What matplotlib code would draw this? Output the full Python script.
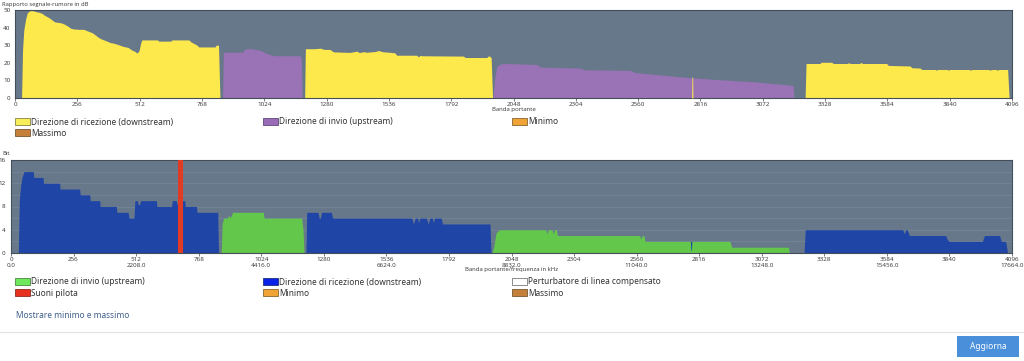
import matplotlib
matplotlib.use("Agg")
import matplotlib.pyplot as plt
from matplotlib.patches import Patch, Rectangle
from matplotlib.font_manager import FontProperties

plt.rcParams['font.family'] = ['Open Sans', 'DejaVu Sans']

# ---------------- data: SNR (dB) per carrier ----------------
snr_ds1_carrier = [27, 31, 36, 44, 51, 61, 74, 88, 101, 112, 121, 135, 148, 162, 175, 189, 202, 216, 229,
                   243, 263, 283, 296, 317, 330, 344, 357, 371, 391, 404, 418, 431, 445, 465, 478, 492,
                   502, 510, 516, 521, 586, 590, 640, 645, 715, 721, 735, 748, 755, 822, 826, 836, 842]
snr_ds1_db = [0, 27, 38.5, 45, 48.5, 49.6, 49.6, 49, 48.6, 48, 47, 46, 44.8, 43.3, 43, 42.7, 42, 40.9, 39.6,
              39.2, 39, 39, 38.2, 37.1, 35.8, 34.3, 33.4, 32.7, 31.5, 31.2, 30.6, 30, 29.3, 28.7, 27.4, 26.5,
              25.5, 27, 31, 33, 33, 32.3, 32.3, 33, 33, 32, 31, 30, 29, 29, 30, 30, 0]

snr_us1_carrier = [853, 856, 935, 943, 955, 975, 990, 1010, 1030, 1050, 1071, 1172, 1176, 1180]
snr_us1_db = [0, 26, 26, 27.5, 28, 28, 27.5, 27, 25.5, 24.5, 24, 24, 22, 0]

snr_ds2_carrier = [1190, 1193, 1230, 1255, 1270, 1283, 1294, 1308, 1376, 1404, 1415, 1431, 1445, 1480,
                   1493, 1510, 1560, 1568, 1650, 1657, 1664, 1672, 1842, 1850, 1938, 1946, 1956, 1962]
snr_ds2_db = [0, 28, 28, 28.3, 27.6, 27.6, 27.6, 26.2, 25.9, 26.6, 25.8, 26.3, 26, 26.4,
              27, 26.3, 25.7, 24.3, 24.3, 23.4, 24.2, 24, 23.8, 23, 23, 24, 23, 0]

snr_us2_carrier = [1963, 1970, 1979, 1990, 2006, 2080, 2143, 2160, 2321, 2340, 2526, 2545, 2732,
                   2869, 3047, 3170, 3197, 3200]
snr_us2_db = [0, 10, 17.7, 19, 19.6, 19.3, 19, 17.5, 17, 16, 15.7, 14.5, 12,
              10.6, 9.1, 7.5, 7, 0]

snr_ds_spot_carrier = [2780, 2781, 2784, 2785]
snr_ds_spot_db = [0, 11.8, 11.8, 0]

snr_ds3_carrier = [3246, 3250, 3307, 3312, 3355, 3362, 3420, 3425, 3430, 3470, 3476, 3482, 3581, 3588,
                   3677, 3684, 3718, 3726, 3780, 3784, 3790, 3830, 3835, 3840, 3920, 3926, 3932,
                   4000, 4006, 4012, 4030, 4036, 4042, 4078, 4084]
snr_ds3_db = [0, 19.6, 19.6, 20.3, 20.3, 19.6, 19.6, 20.1, 19.6, 19.6, 20.2, 19.6, 19.6, 18.5,
              18.2, 17.2, 17, 16.2, 16.2, 15.8, 16.2, 16.2, 15.8, 16.2, 16.2, 15.8, 16.2,
              16.2, 15.8, 16.2, 16.2, 15.8, 16.2, 16.2, 0]

# ---------------- data: bits per carrier ----------------
bits_ds1_carrier = [30, 34, 39, 45, 53, 91, 93, 131, 133, 199, 201, 281, 283, 322, 324, 363, 365, 431, 433,
                    479, 483, 503, 507, 517, 521, 526, 530, 595, 597, 657, 660, 676, 680, 684, 688, 711,
                    713, 759, 761, 846, 849]
bits_ds1 = [0, 9, 11.5, 13, 14, 14, 13, 13, 12, 12, 11, 11, 10, 10, 9, 9, 8, 8, 7,
            7, 6, 6, 9, 9, 8.3, 8.3, 9, 9, 8, 8, 9, 9, 8.3, 8.6, 9, 9,
            8, 8, 7, 7, 0]

bits_us1_carrier = [860, 864, 870, 884, 893, 897, 902, 907, 1032, 1036, 1189, 1195, 1199]
bits_us1 = [0, 5, 6, 6, 6.5, 6, 6.5, 7, 7, 6, 6, 4, 0]

bits_ds2_carrier = [1207, 1210, 1256, 1261, 1266, 1271, 1311, 1316, 1640, 1647, 1654, 1664, 1668, 1673,
                    1700, 1707, 1714, 1724, 1728, 1733, 1760, 1766, 1960, 1964]
bits_ds2 = [0, 7, 7, 6, 6, 7, 7, 6, 6, 5, 6, 6, 5.2, 6,
            6, 5, 6, 6, 5.2, 6, 6, 5, 5, 0]

bits_us2_carrier = [1968, 1975, 1985, 1999, 2188, 2193, 2198, 2214, 2219, 2224, 2232, 2236, 2572, 2577,
                    2583, 2590, 2594, 2942, 2949, 3181, 3185]
bits_us2 = [0, 1, 3.5, 4, 4, 3.3, 4, 4, 3.3, 4, 4, 3, 3, 2.4,
            3, 3, 2, 2, 1, 1, 0]

bits_ds_spot_carrier = [2780, 2782, 2784, 2786]
bits_ds_spot = [2, 0.4, 0.4, 2]

bits_ds3_carrier = [3245, 3250, 3649, 3655, 3661, 3667, 3676, 3825, 3831, 3839, 3975, 3983, 4045, 4052,
                    4070, 4078]
bits_ds3 = [0, 4, 4, 3.3, 4, 4, 3, 3, 2.3, 2, 2, 3, 3, 2,
            2, 0]

pilot_carrier = [693]
pilot_bits = [16]

# ticks / labels
carrier_ticks = [0, 256, 512, 768, 1024, 1280, 1536, 1792, 2048, 2304, 2560, 2816, 3072, 3328, 3584, 3840, 4096]
khz_labels = {0: "0.0", 512: "2208.0", 1024: "4416.0", 1536: "6624.0", 2048: "8832.0",
              2560: "11040.0", 3072: "13248.0", 3584: "15456.0", 4096: "17664.0"}
snr_ticks = [0, 10, 20, 30, 40, 50]
bit_ticks = [0, 4, 8, 12, 16]

# ---------------- style ----------------
BG = '#68788b'
YELLOW = '#fde94c'
PURPLE = '#9a72b6'
BLUE = '#1f45a6'
GREEN = '#62c74a'
RED = '#e23b24'
SPINE = '#454f5a'
TXT = '#333333'
TICK_FS = 4.5

NARROW = FontProperties(family=['Noto Sans', 'DejaVu Sans'], stretch='condensed', size=6.0)

W, H = 1024, 361
fig = plt.figure(figsize=(W / 100, H / 100), dpi=100)
fig.patch.set_facecolor('white')


def ax_rect(x0, y0, x1, y1):
    return [x0 / W, 1 - y1 / H, (x1 - x0) / W, (y1 - y0) / H]


def style_axes(ax, ypad):
    ax.set_facecolor(BG)
    for s in ax.spines.values():
        s.set_color(SPINE)
        s.set_linewidth(0.8)
    ax.set_xlim(0, 4096)
    ax.set_xticks(carrier_ticks)
    ax.tick_params(axis='x', length=2, width=0.6, color='#666666', pad=1.2, labelsize=TICK_FS, labelcolor=TXT)
    ax.tick_params(axis='y', length=0, pad=ypad, labelsize=TICK_FS, labelcolor=TXT)


# ---------- top chart: SNR ----------
ax1 = fig.add_axes(ax_rect(15, 10, 1012, 98))
style_axes(ax1, 3.2)
ax1.set_ylim(0, 50)
ax1.set_yticks(snr_ticks)
for c, v in [(snr_ds1_carrier, snr_ds1_db), (snr_ds2_carrier, snr_ds2_db), (snr_ds3_carrier, snr_ds3_db)]:
    ax1.fill_between(c, v, 0, color=YELLOW, linewidth=0, zorder=2)
for c, v in [(snr_us1_carrier, snr_us1_db), (snr_us2_carrier, snr_us2_db)]:
    ax1.fill_between(c, v, 0, color=PURPLE, linewidth=0, zorder=2)
ax1.fill_between(snr_ds_spot_carrier, snr_ds_spot_db, 0, color=YELLOW, linewidth=0, zorder=3)
ax1.set_xticklabels([str(t) for t in carrier_ticks])
ax1.set_xlabel("Banda portante", fontsize=4.3, color=TXT)
ax1.xaxis.set_label_coords(0.5, -(109 - 98) / 88)
ax1.xaxis.label.set_va('center')

# ---------- bottom chart: bits ----------
ax2 = fig.add_axes(ax_rect(11, 160, 1012, 253))
style_axes(ax2, 4.0)
ax2.set_ylim(0, 16)
ax2.set_yticks(bit_ticks)
for yg in [2, 4, 6, 8, 10, 12, 14]:
    ax2.axhline(yg, color='#74859a', linewidth=0.6, zorder=1)
for c, v in [(bits_ds1_carrier, bits_ds1), (bits_ds2_carrier, bits_ds2), (bits_ds3_carrier, bits_ds3)]:
    ax2.fill_between(c, v, 0, color=BLUE, linewidth=0, zorder=2)
for c, v in [(bits_us1_carrier, bits_us1), (bits_us2_carrier, bits_us2)]:
    ax2.fill_between(c, v, 0, color=GREEN, linewidth=0, zorder=2)
ax2.fill_between(bits_ds_spot_carrier, bits_ds_spot, 2, color=BLUE, linewidth=0, zorder=3)
ax2.bar(pilot_carrier, pilot_bits, width=20, color=RED, linewidth=0, zorder=4)
ax2.set_xticklabels([f"{t}\n{khz_labels[t]}" if t in khz_labels else str(t) for t in carrier_ticks],
                    linespacing=1.1)
ax2.set_xlabel("Banda portante/frequenza in kHz", fontsize=4.3, color=TXT)
ax2.xaxis.set_label_coords(0.5, -(270 - 253) / 93)
ax2.xaxis.label.set_va('center')

# ---------- titles ----------
fig.text(2 / W, 1 - 4.5 / H, "Rapporto segnale-rumore in dB", fontsize=4.2, color=TXT, va='center', ha='left')
fig.text(2 / W, 1 - 154 / H, "Bit", fontsize=4.2, color=TXT, va='center', ha='left')


# ---------- legends ----------
def add_legend(items, x_px, y_px):
    handles = [Patch(facecolor=fc, edgecolor=ec, linewidth=0.6, label=lb) for lb, fc, ec in items]
    fig.legend(handles=handles, loc='upper left', bbox_to_anchor=(x_px / W, 1 - y_px / H),
               frameon=False, prop=NARROW, borderpad=0, borderaxespad=0,
               handlelength=1.8, handleheight=0.92, handletextpad=0.16, labelspacing=0.28,
               labelcolor=TXT)


add_legend([("Direzione di ricezione (downstream)", '#f8ee5a', '#8a8240'),
            ("Massimo", '#c47f3a', '#7a5530')], 15, 117.5)
add_legend([("Direzione di invio (upstream)", '#9a6cb8', '#5e4878')], 263, 117.5)
add_legend([("Minimo", '#f0a436', '#8a6430')], 511.5, 117.5)

add_legend([("Direzione di invio (upstream)", '#6ee85a', '#4a8a40'),
            ("Suoni pilota", '#e8301e', '#8a3020')], 15, 277.5)
add_legend([("Direzione di ricezione (downstream)", '#0a22e8', '#20307a'),
            ("Minimo", '#f0a436', '#8a6430')], 263, 277.5)
add_legend([("Perturbatore di linea compensato", '#ffffff', '#777777'),
            ("Massimo", '#c47f3a', '#7a5530')], 511.5, 277.5)

fig.text(15.5 / W, 1 - 316 / H, "Mostrare minimo e massimo", fontproperties=NARROW, color='#40608c',
         va='center', ha='left')

# ---------- footer ----------
fig.add_artist(plt.Line2D([0, 1], [1 - 331.5 / H, 1 - 331.5 / H], color='#e4e4e4', linewidth=0.9,
                          transform=fig.transFigure))
fig.add_artist(Rectangle((957 / W, 1 - 357 / H), 62 / W, 21 / H, transform=fig.transFigure,
                         facecolor='#4a8fda', edgecolor='none'))
fig.text(988 / W, 1 - 346.5 / H, "Aggiorna", fontproperties=NARROW, color='white', va='center', ha='center')

fig.savefig("out.png", dpi=100, facecolor='white')
